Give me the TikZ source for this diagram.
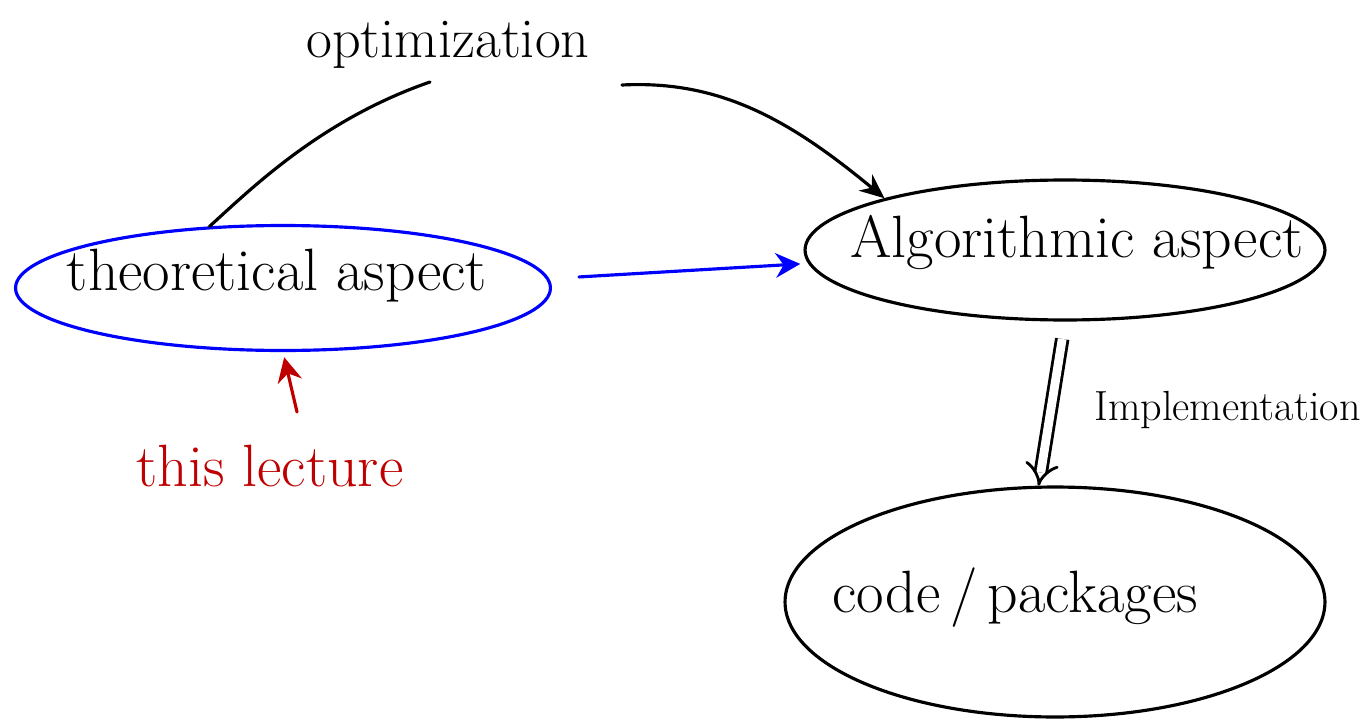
\documentclass[tikz,border=0pt]{standalone}
\usetikzlibrary{shapes.geometric,arrows.meta}
\tikzset{
  blob/.style={draw=black,line width=1.8pt,ellipse,inner sep=0pt},
  hand/.style={font=\fontsize{34}{38}\selectfont},
  link/.style={draw=black,line width=1.8pt,line cap=round}
}
\begin{document}
\begin{tikzpicture}[x=0.02cm,y=-0.02cm]
\useasboundingbox(0,0)rectangle(1366,723);
\node[blob,draw=blue,minimum width=10.7cm,minimum height=2.5cm](theo)at(283,288){};
\node[hand](theotext)at(277,276){theoretical aspect};
\node[blob,minimum width=10.4cm,minimum height=2.8cm](algo)at(1065,250){};
\node[hand](algotext)at(1077,242){Algorithmic aspect};
\node[blob,minimum width=10.8cm,minimum height=4.6cm](code)at(1055,602){};
\node[hand](codetext)at(1015,598){code\,/\,packages};
\node[hand,font=\fontsize{32}{36}\selectfont](optim)at(448,45){optimization};
\node[hand,text=red!75!black](lecture)at(270,466){this lecture};
\node[font=\fontsize{24}{28}\selectfont,anchor=west](impl)at(1088,410){Implementation};
% optimization link
\coordinate(opt in)at(430,82);
\coordinate(opt out)at(622,85);
\draw[link](theo.140)..controls(250,190)and(320,120)..(opt in);
\draw[link,-{Stealth[length=14pt,width=12pt]}](opt out)..controls(720,80)and(790,120)..(algo.164);
% theory to algorithms
\draw[link,draw=blue,-{Stealth[length=14pt,width=14pt]},shorten <=17pt,shorten >=4.5pt](theo.2)--(algo.183);
% this lecture
\coordinate(lec tip)at(297,412);
\draw[link,draw=red!75!black,-{Stealth[length=14pt,width=14pt]},shorten >=3pt](lec tip)--(theo.south);
% implementation
\draw[line width=1.6pt,double,double distance=5pt,-{Implies[length=18pt,width=26pt]},shorten <=10pt](algo.south)--(code.98);
\end{tikzpicture}
\end{document}
